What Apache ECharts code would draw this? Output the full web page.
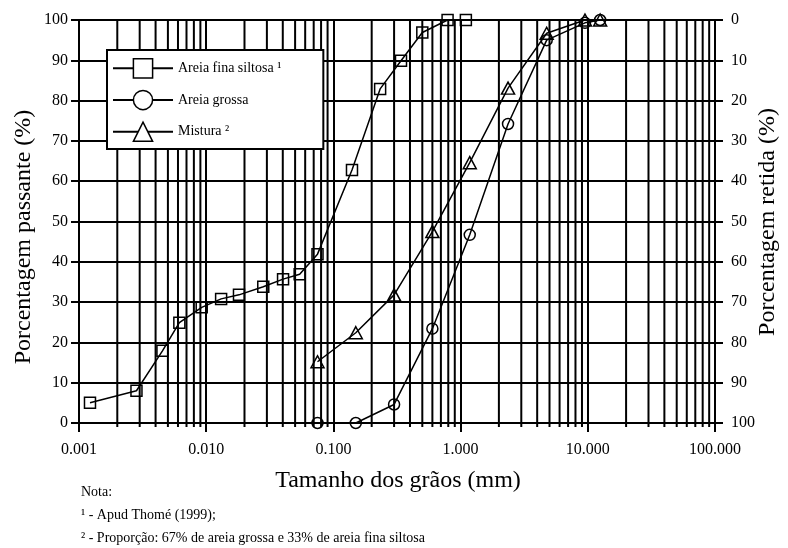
<!DOCTYPE html>
<html>
<head>
<meta charset="utf-8">
<script src="https://cdn.jsdelivr.net/npm/echarts@6/dist/echarts.min.js"></script>
<style>
  html, body { margin: 0; padding: 0; background: #fff; }
  #chart { width: 788px; height: 548px; }
</style>
</head>
<body>
<div id="chart"></div>
<script>
// Grain size distribution (grain size in mm, percent passing)
const fineSize   = [0.00122, 0.00283, 0.00453, 0.00615, 0.00922, 0.0131, 0.0181, 0.0281, 0.0402, 0.0543, 0.075, 0.14, 0.233, 0.34, 0.50, 0.79, 1.10];
const finePass   = [5.0, 8.0, 17.9, 24.9, 28.7, 30.8, 31.8, 33.8, 35.7, 36.9, 41.9, 62.8, 82.9, 89.9, 96.9, 100, 100];
const coarseSize = [0.075, 0.15, 0.30, 0.60, 1.18, 2.36, 4.75, 9.5, 12.5];
const coarsePass = [0, 0, 4.6, 23.4, 46.7, 74.2, 95.0, 99.3, 100];
const mixSize    = [0.075, 0.15, 0.30, 0.60, 1.18, 2.36, 4.75, 9.5, 12.5];
const mixPass    = [15.2, 22.4, 31.8, 47.5, 64.6, 83.1, 96.7, 100, 100];

const seriesNames = ['Areia fina siltosa ¹', 'Areia grossa', 'Mistura ²'];

// Log-axis subdivisions (2..9 within each decade) for the minor grid
const decades = [0.001, 0.01, 0.1, 1, 10];
const minorSteps = [2, 3, 4, 5, 6, 7, 8, 9];
const minorLines = [];
decades.forEach(d => minorSteps.forEach(m => minorLines.push(+(d * m).toPrecision(3))));

const noteLines = [
  'Nota:',
  '¹ - Apud Thomé (1999);',
  '² - Proporção: 67% de areia grossa e 33% de areia fina siltosa'
];

const BLACK = '#000';
const SERIF = '"Liberation Serif", "Times New Roman", serif';
const GRID_W = 2;

function pairs(xs, ys) { return xs.map((x, i) => [x, ys[i]]); }

function curve(name, xs, ys, symbol, size) {
  return {
    name: name,
    type: 'line',
    data: pairs(xs, ys),
    symbol: symbol,
    symbolSize: size,
    z: 3,
    lineStyle: { color: BLACK, width: 1.5 },
    itemStyle: { color: 'transparent', borderColor: BLACK, borderWidth: 1.5 },
    emphasis: { disabled: true },
    silent: true
  };
}

const chart = echarts.init(document.getElementById('chart'), null, { renderer: 'canvas' });

chart.setOption({
  animation: false,
  backgroundColor: '#fff',
  grid: { left: 79, right: 73, top: 20, bottom: 125 },
  xAxis: {
    type: 'log',
    logBase: 10,
    min: 0.001,
    max: 100,
    axisLine: { show: true, onZero: false, lineStyle: { color: BLACK, width: GRID_W } },
    axisTick: { show: true, length: 9, lineStyle: { color: BLACK, width: GRID_W } },
    splitLine: { show: true, lineStyle: { color: BLACK, width: GRID_W } },
    axisLabel: {
      formatter: v => v.toFixed(3),
      fontFamily: SERIF, fontSize: 16, color: BLACK, margin: 19
    }
  },
  yAxis: [
    {
      type: 'value', position: 'left', min: 0, max: 100, interval: 10,
      axisLine: { show: true, lineStyle: { color: BLACK, width: GRID_W } },
      axisTick: { show: true, length: 8, lineStyle: { color: BLACK, width: GRID_W } },
      splitLine: { show: true, lineStyle: { color: BLACK, width: GRID_W } },
      axisLabel: { fontFamily: SERIF, fontSize: 16, color: BLACK, margin: 11 }
    },
    {
      type: 'value', position: 'right', min: 0, max: 100, interval: 10, inverse: true,
      axisLine: { show: true, lineStyle: { color: BLACK, width: GRID_W } },
      axisTick: { show: true, length: 8, lineStyle: { color: BLACK, width: GRID_W } },
      splitLine: { show: false },
      axisLabel: { fontFamily: SERIF, fontSize: 16, color: BLACK, margin: 16 }
    }
  ],
  legend: {
    orient: 'vertical',
    left: 107,
    top: 50,
    itemWidth: 60,
    itemHeight: 24,
    itemGap: 11,
    itemTextGap: 17,
    padding: [8, 42, 7, 5],
    backgroundColor: '#fff',
    borderColor: BLACK,
    borderWidth: 2,
    borderRadius: 0,
    selectedMode: false,
    textStyle: { fontFamily: SERIF, fontSize: 14, color: BLACK },
    data: seriesNames.map(n => ({ name: n, itemStyle: { color: '#fff', borderColor: BLACK, borderWidth: 1.5 } }))
  },
  graphic: [
    {
      type: 'text', x: 24, y: 237, rotation: Math.PI / 2, silent: true,
      style: { text: 'Porcentagem passante (%)', font: '24px ' + SERIF, fill: BLACK, textAlign: 'center', textVerticalAlign: 'middle' }
    },
    {
      type: 'text', x: 768, y: 222, rotation: Math.PI / 2, silent: true,
      style: { text: 'Porcentagem retida (%)', font: '24px ' + SERIF, fill: BLACK, textAlign: 'center', textVerticalAlign: 'middle' }
    },
    {
      type: 'text', x: 398, y: 481, silent: true,
      style: { text: 'Tamanho dos grãos (mm)', font: '24px ' + SERIF, fill: BLACK, textAlign: 'center', textVerticalAlign: 'middle' }
    }
  ].concat(noteLines.map((t, i) => ({
    type: 'text', x: 81, y: 492 + i * 23.3, silent: true,
    style: { text: t, font: '14px ' + SERIF, fill: BLACK, textAlign: 'left', textVerticalAlign: 'middle' }
  }))),
  series: [
    {
      type: 'custom',
      silent: true,
      z: 1,
      clip: false,
      data: minorLines.map(v => [v, 0]),
      encode: { x: 0, y: 1 },
      renderItem: function (params, api) {
        const v = api.value(0);
        const top = api.coord([v, 100]);
        const bottom = api.coord([v, 0]);
        return {
          type: 'line',
          shape: { x1: top[0], y1: top[1], x2: bottom[0], y2: bottom[1] + 4 },
          style: { stroke: BLACK, lineWidth: GRID_W }
        };
      }
    },
    curve(seriesNames[0], fineSize, finePass, 'rect', 11),
    curve(seriesNames[1], coarseSize, coarsePass, 'circle', 11),
    curve(seriesNames[2], mixSize, mixPass, 'triangle', [13, 12])
  ]
});
</script>
</body>
</html>
